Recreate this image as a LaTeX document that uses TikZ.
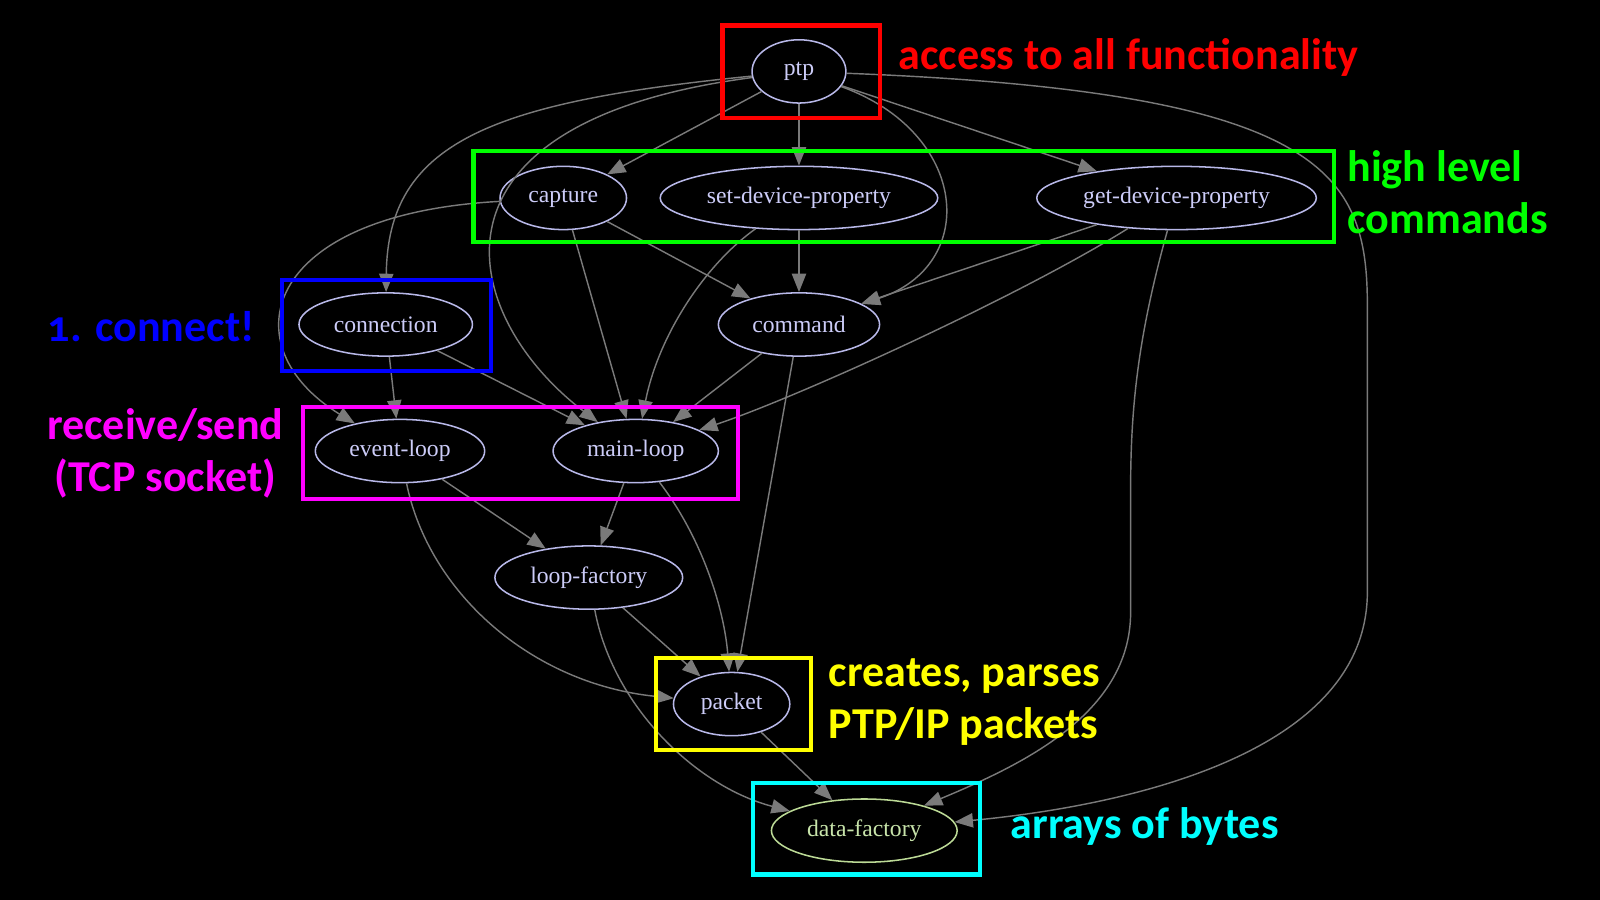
\documentclass[tikz,border=0pt]{standalone}
\usepackage{fontspec}
\setmainfont{Liberation Serif}
\newfontfamily\notefont{Carlito}[Numbers=OldStyle]
\usetikzlibrary{arrows.meta,shapes.geometric}

\definecolor{edgegray}{RGB}{122,122,122}
\definecolor{nodeline}{RGB}{184,184,232}
\definecolor{nodetext}{RGB}{204,204,248}
\definecolor{dataline}{RGB}{188,218,150}
\definecolor{datatext}{RGB}{200,228,170}
\definecolor{notered}{RGB}{255,0,0}
\definecolor{notegreen}{RGB}{0,255,0}
\definecolor{noteblue}{RGB}{0,0,255}
\definecolor{notemagenta}{RGB}{255,0,255}
\definecolor{noteyellow}{RGB}{255,255,0}
\definecolor{notecyan}{RGB}{0,255,255}

\begin{document}
\begin{tikzpicture}[x=0.5pt,y=-0.5pt,
  mod/.style={ellipse, draw=nodeline, line width=0.75pt, text=nodetext, minimum height=31pt, inner sep=0pt, font=\fontsize{11.6}{13}\selectfont},
  dep/.style={draw=edgegray, line width=0.7pt, -{Triangle[length=9pt,width=7pt]}},
  note/.style={font=\notefont\bfseries\fontsize{21.6}{25.5}\selectfont, inner sep=0pt},
  markbox/.style={line width=2pt}]

	% Background
	\fill[black] (0,0) rectangle (1568,882);
	\useasboundingbox (0,0) rectangle (1568,882);

	% Modules
	\node[mod, minimum width=46pt] (ptp) at (783,70) {ptp};
	\node[mod, minimum width=62pt] (capture) at (552,194) {capture};
	\node[mod, minimum width=136pt] (setdev) at (783,194) {set-device-property};
	\node[mod, minimum width=137pt] (getdev) at (1153,194) {get-device-property};
	\node[mod, minimum width=85pt] (connection) at (378,318) {connection};
	\node[mod, minimum width=79pt] (command) at (783,318) {command};
	\node[mod, minimum width=83pt] (eventloop) at (392,442) {event-loop};
	\node[mod, minimum width=81pt] (mainloop) at (623,442) {main-loop};
	\node[mod, minimum width=92pt] (loopfactory) at (577,566) {loop-factory};
	\node[mod, minimum width=57pt] (packet) at (717,690) {packet};
	\node[mod, minimum width=91pt, draw=dataline, text=datatext] (datafactory) at (847,814) {data-factory};

	% Straight dependencies
	\draw[dep] (ptp) -- (capture);
	\draw[dep] (ptp) -- (setdev);
	\draw[dep] (ptp) -- (getdev);
	\draw[dep] (capture) -- (command);
	\draw[dep] (capture) -- (mainloop);
	\draw[dep] (setdev) -- (command);
	\draw[dep] (getdev) -- (command);
	\draw[dep] (connection) -- (eventloop);
	\draw[dep] (connection) -- (mainloop);
	\draw[dep] (command) -- (mainloop);
	\draw[dep] (command) -- (packet);
	\draw[dep] (eventloop) -- (loopfactory);
	\draw[dep] (mainloop) -- (loopfactory);
	\draw[dep] (loopfactory) -- (packet);
	\draw[dep] (packet) -- (datafactory);

	% Curved dependencies
	\draw[dep] (ptp) .. controls (480,100) and (380,140) .. (connection);
	\draw[dep] (ptp) .. controls (400,120) and (450,310) .. (mainloop);
	\draw[dep] (ptp) .. controls (950,130) and (960,260) .. (command);
	\draw[dep] (ptp) .. controls (1300,90) and (1340,170) .. (1340,300) -- (1340,580) .. controls (1340,740) and (1100,790) .. (datafactory);
	\draw[dep] (capture) .. controls (255,210) and (225,340) .. (eventloop);
	\draw[dep] (setdev) .. controls (690,260) and (645,330) .. (mainloop);
	\draw[dep] (getdev) .. controls (1000,290) and (780,390) .. (mainloop);
	\draw[dep] (getdev) .. controls (1115,330) and (1108,400) .. (1108,480) -- (1108,600) .. controls (1108,700) and (1000,750) .. (datafactory);
	\draw[dep] (eventloop) .. controls (420,580) and (520,670) .. (packet);
	\draw[dep] (mainloop) .. controls (690,530) and (710,600) .. (packet);
	\draw[dep] (loopfactory) .. controls (600,690) and (680,770) .. (datafactory);

	% Boxes
	\draw[markbox, notered] (708,25) rectangle (862,116);
	\draw[markbox, notegreen] (464,148) rectangle (1307,237);
	\draw[markbox, noteblue] (276,274) rectangle (481,364);
	\draw[markbox, notemagenta] (297,399) rectangle (723,489);
	\draw[markbox, noteyellow] (643,645) rectangle (795,735);
	\draw[markbox, notecyan] (738,767) rectangle (960,857);

	% Notes
	\node[note, notered, anchor=west] (allnote) at (880,56) {access to all functionality};
	\node[note, notegreen, anchor=west, align=left] (cmdnote) at (1320,188) {high level\\commands};
	\node[note, noteblue, anchor=east] (connote) at (250,320) {1. connect!};
	\node[note, notemagenta, align=center] (loopnote) at (162,444) {receive/send\\(TCP socket)};
	\node[note, noteyellow, anchor=west, align=left] (pktnote) at (812,688) {creates, parses\\PTP/IP packets};
	\node[note, notecyan, anchor=west] (datanote) at (990,810) {arrays of bytes};

\end{tikzpicture}
\end{document}
